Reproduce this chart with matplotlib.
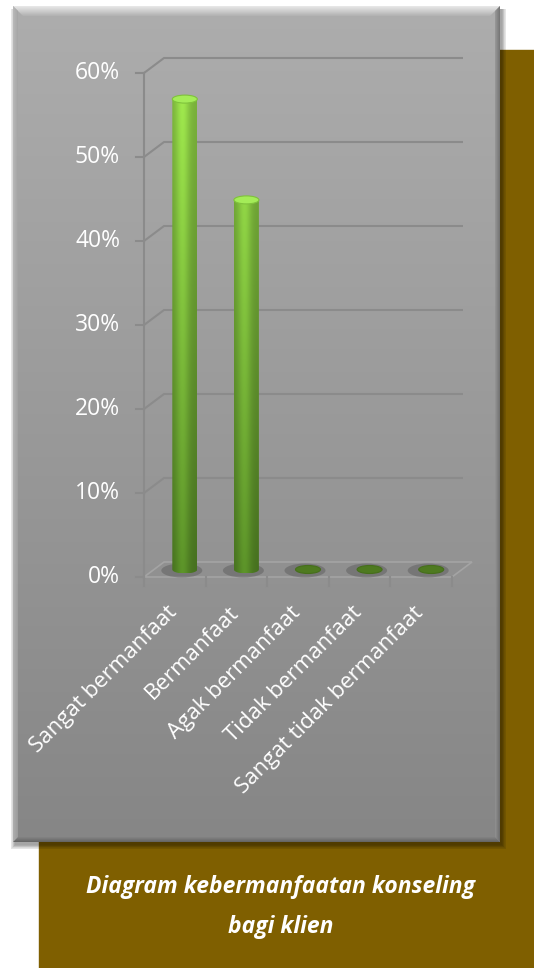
import numpy as np
import matplotlib.pyplot as plt
from matplotlib.patches import Rectangle, Ellipse, Polygon, PathPatch
from matplotlib.path import Path
from matplotlib.colors import LinearSegmentedColormap, to_rgb

plt.rcParams['font.family'] = ['Open Sans', 'DejaVu Sans']

# data
categories = ["Sangat bermanfaat", "Bermanfaat", "Agak bermanfaat",
              "Tidak bermanfaat", "Sangat tidak bermanfaat"]
values = [0.56, 0.44, 0.0, 0.0, 0.0]
ticks = [0.0, 0.1, 0.2, 0.3, 0.4, 0.5, 0.6]
tick_labels = ["0%", "10%", "20%", "30%", "40%", "50%", "60%"]
caption = "Diagram kebermanfaatan konseling\nbagi klien"

W, H = 534, 968
fig = plt.figure(figsize=(W / 100, H / 100), dpi=100)
fig.patch.set_facecolor('white')

# background axes in pixel units
bg = fig.add_axes([0, 0, 1, 1])
bg.axis('off')
# chart axes: front plane of the pseudo-3d plot
ax = fig.add_axes([144 / W, 391 / H, 308 / W, 504 / H])
ax.set_xlim(0, len(categories))
ax.set_ylim(0, 0.6)
ax.axis('off')

DX, DY = 20, 15  # depth offset in px


def px(x, y, d=0.0):
    X, Y = ax.transData.transform((x, y))
    return X + d * DX, Y + d * DY


# brown box behind
bg.add_patch(Rectangle((39, 0), W - 39, H - 50, color='#7f5f00', zorder=0))

# grey panel with shadow
x0, x1, y0, y1 = 13, 500, H - 842, H - 6
for k in range(8):
    bg.add_patch(Rectangle((x0 + 2 - k * 0.6, y0 - 3 - k * 0.6), x1 - x0 + k * 1.2, y1 - y0 + k * 0.6,
                           color='black', alpha=0.05, lw=0, zorder=1))
panel_cmap = LinearSegmentedColormap.from_list('panel', ['#868686', '#adadad'])
bg.imshow(np.linspace(0, 1, 256).reshape(-1, 1), cmap=panel_cmap, extent=(x0, x1, y0, y1),
          origin='lower', aspect='auto', zorder=2)


def mix(c1, c2, t):
    a, b = np.array(to_rgb(c1)), np.array(to_rgb(c2))
    return tuple(a + (b - a) * t)


# bevel edges
for i in range(10):
    t = i / 10
    bg.add_patch(Polygon([(x0 + i, y1 - i), (x1 - i, y1 - i), (x1 - i - 1, y1 - i - 1), (x0 + i + 1, y1 - i - 1)],
                         closed=True, color=mix('#e6e6e6', '#adadad', t), lw=0, zorder=3))
for i in range(5):
    t = i / 5
    bg.add_patch(Polygon([(x0 + i, y0 + i), (x1 - i, y0 + i), (x1 - i - 1, y0 + i + 1), (x0 + i + 1, y0 + i + 1)],
                         closed=True, color=mix('#666666', '#878787', t), lw=0, zorder=3))
    bg.add_patch(Polygon([(x1 - i, y0 + i), (x1 - i, y1 - i), (x1 - i - 1, y1 - i - 1), (x1 - i - 1, y0 + i + 1)],
                         closed=True, color=mix('#6a6a6a', '#9a9a9a', t), alpha=0.8, lw=0, zorder=3))
    bg.add_patch(Polygon([(x0 + i, y0 + i), (x0 + i, y1 - i), (x0 + i + 1, y1 - i - 1), (x0 + i + 1, y0 + i + 1)],
                         closed=True, color=mix('#bdbdbd', '#a0a0a0', t), alpha=0.7, lw=0, zorder=3))

grid_c = '#8b8b8b'
n = len(categories)

# floor
floor = [px(0, 0, 0), px(n, 0, 0), px(n, 0, 1), px(0, 0, 1)]
bg.add_patch(Polygon(floor, closed=True, fc='#909090', ec='#a4a4a4', lw=1.2, zorder=4))

# gridlines and y axis
for t, lab in zip(ticks, tick_labels):
    fx, fy = px(0, t, 0)
    bx, by = px(0, t, 1)
    ex, _ = px(n, t, 1)
    if t > 0:
        bg.plot([fx, bx, ex - 9], [fy, by, by], color=grid_c, lw=1.5, zorder=4, solid_capstyle='butt')
    bg.plot([fx - 8, fx], [fy, fy], color=grid_c, lw=1.5, zorder=4)
    bg.text(fx - 24, fy, lab, ha='right', va='center', fontsize=16.5, color='white', zorder=6)
ax0 = px(0, 0)
ax1 = px(0, ticks[-1])
bg.plot([ax0[0], ax1[0]], [ax0[1], ax1[1]], color=grid_c, lw=1.5, zorder=4)

# category ticks
for i in range(n + 1):
    cx, cy = px(i, 0, 0)
    bg.plot([cx, cx], [cy, cy - 9], color=grid_c, lw=1.5, zorder=4)

# cylinders
bw, eh = 25, 8
top_rgb = np.array(to_rgb('#a0e84e'))
bot_rgb = np.array(to_rgb('#5a9028'))
plot_top = px(0, ticks[-1], 0.5)[1]
plot_bot = px(0, 0, 0.5)[1]
for i, v in enumerate(values):
    cx, yb = px(i + 0.5, 0, 0.5)
    _, yt = px(i + 0.5, v, 0.5)
    bg.add_patch(Ellipse((cx - 3, yb - 1), bw + 16, eh + 6, fc='#626262', alpha=0.55, lw=0, zorder=5))
    if v <= 0:
        bg.add_patch(Ellipse((cx, yb), bw, eh, fc='#4e7a20', ec='#466e1c', lw=0.8, zorder=6))
        continue
    ny, nx = 200, 60
    ys = np.linspace(yb - eh / 2, yt, ny)
    tv = np.clip((ys - plot_bot) / (plot_top - plot_bot), 0, 1)[:, None, None]
    base = bot_rgb + (top_rgb - bot_rgb) * tv
    u = np.linspace(0, 1, nx)
    shade = 0.78 + 0.25 * np.exp(-((u - 0.42) / 0.28) ** 2)
    img = np.clip(base * shade[None, :, None], 0, 1)
    im = bg.imshow(img, extent=(cx - bw / 2, cx + bw / 2, yb - eh / 2, yt), origin='lower',
                   aspect='auto', zorder=6, interpolation='bilinear')
    ang = np.linspace(np.pi, 2 * np.pi, 40)
    verts = [(cx - bw / 2, yt), (cx - bw / 2, yb)]
    verts += [(cx + bw / 2 * np.cos(a), yb + eh / 2 * np.sin(a)) for a in ang]
    verts += [(cx + bw / 2, yt), (cx - bw / 2, yt)]
    clip = PathPatch(Path(verts), transform=bg.transData, fc='none', ec='none')
    bg.add_patch(clip)
    im.set_clip_path(clip)
    bg.add_patch(Ellipse((cx, yt), bw, eh, fc='#a4ec58', ec='#7fc23c', lw=0.8, zorder=7))

# category labels
for i, lab in enumerate(categories):
    cx, cy = px(i + 0.5, 0, 0)
    bg.text(cx - 8, cy - 25, lab, rotation=45, rotation_mode='anchor', ha='right', va='top',
            fontsize=16, color='white', zorder=6)

# caption
bg.text(281, H - 907, caption, ha='center', va='center', fontsize=16.5, fontweight='bold',
        style='italic', color='white', linespacing=1.85, zorder=6)

bg.set_xlim(0, W)
bg.set_ylim(0, H)
fig.savefig('out.png', dpi=100)
